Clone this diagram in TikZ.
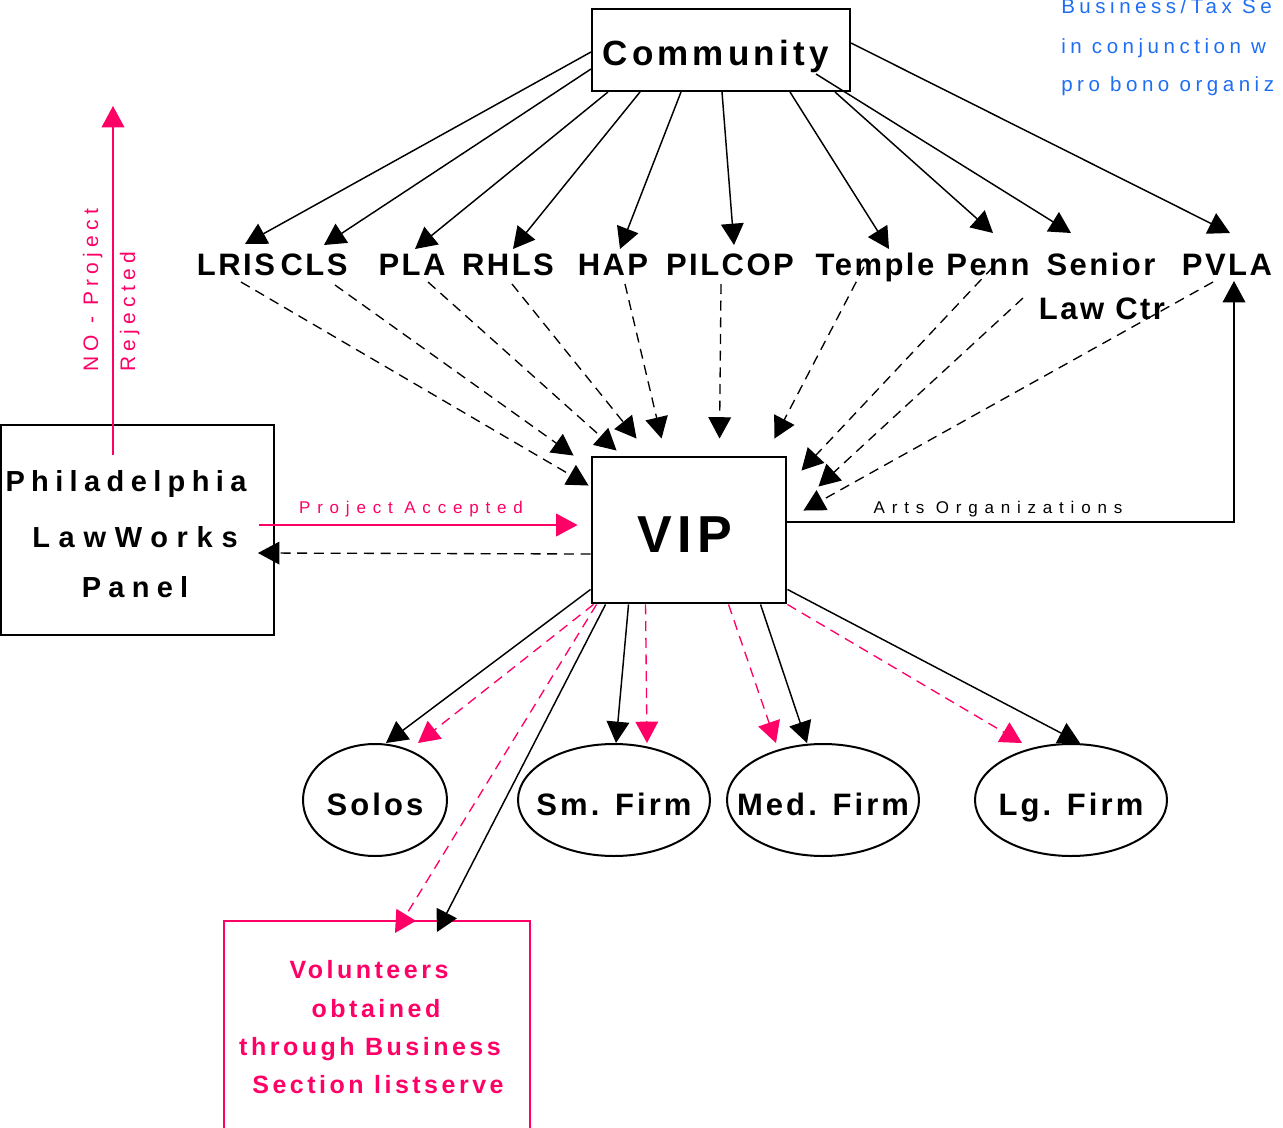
\documentclass[tikz,border=0pt]{standalone}
\usepackage{fontspec}
\setmainfont{Liberation Sans}
\usetikzlibrary{arrows.meta,shapes.geometric}
\definecolor{pk}{RGB}{255,0,102}
\definecolor{bl}{RGB}{30,110,245}
\newcommand\myls[1]{\addfontfeatures{LetterSpace=#1}}
\newcommand\myfs[1]{\fontsize{#1}{#1}\selectfont}
\begin{document}
\begin{tikzpicture}[x=0.75pt,y=-0.75pt,
  box/.style={draw, rectangle, inner sep=0pt, line width=1.5pt},
  oval/.style={draw, ellipse, inner sep=0pt, line width=1.5pt, minimum height=84pt,
    text height=22.5pt, text depth=0pt, font=\bfseries\myfs{23.25pt}\myls{10}},
  lab/.style={anchor=base, inner sep=0pt, font=\bfseries\myfs{23.25pt}\myls{8}},
  txt/.style={anchor=base, inner sep=0pt},
  arr/.style={-{Triangle[length=16pt,width=17pt]}, line width=1.1pt},
  darr/.style={arr, line width=1pt, dash pattern=on 7.5pt off 5pt},
  parr/.style={arr, color=pk},
  pdarr/.style={darr, color=pk}]
\clip (0,0) rectangle (1283,1128);

% main boxes
\node[box, minimum width=193.5pt, minimum height=61.5pt, text height=22.5pt, text depth=0pt,
  font=\bfseries\myfs{26.25pt}\myls{12}] (comm) at (721,50) {\hspace*{-8pt}Community};
\node[box, line width=2.2pt, minimum width=145.5pt, minimum height=109.5pt, text height=33pt,
  text depth=0pt, font=\bfseries\myfs{39pt}\myls{10}] (vip) at (689,530) {\hspace*{-6pt}VIP};
\node[box, minimum width=204.75pt, minimum height=157.5pt] (phil) at (137.5,530) {};
\node[txt, font=\bfseries\myfs{21.75pt}\myls{22}] (phil1) at (126,491) {Philadelphia};
\node[txt, font=\bfseries\myfs{21.75pt}\myls{30}] (phil2) at (135,547) {LawWorks};
\node[txt, font=\bfseries\myfs{21.75pt}\myls{25}] (phil3) at (135,597) {Panel};

% labels
\node[lab] (lris) at (236,275) {LRIS};
\node[lab] (cls) at (314,275) {CLS};
\node[lab] (pla) at (412,275) {PLA};
\node[lab] (rhls) at (508,275) {RHLS};
\node[lab] (hap) at (613,275) {HAP};
\node[lab] (pilcop) at (730,275) {PILCOP};
\node[lab] (temple) at (875,275) {Temple};
\node[lab] (penn) at (988,275) {Penn};
\node[lab] (senior) at (1101,275) {Senior};
\node[lab] (lawctr) at (1102,319) {Law Ctr};
\node[lab] (pvla) at (1227,275) {PVLA};

% ovals
\node[oval, minimum width=108pt] (solos) at (375,800) {\makebox[0pt]{Solos}};
\node[oval, minimum width=144pt] (sm) at (614,800) {\makebox[0pt]{Sm. Firm}};
\node[oval, minimum width=144pt] (med) at (823,800) {\makebox[0pt]{Med. Firm}};
\node[oval, minimum width=144pt] (lg) at (1071,800) {\makebox[0pt]{Lg. Firm}};

% volunteers
\node[box, draw=pk, minimum width=229.5pt, minimum height=164.25pt] (vol) at (377,1030.5) {};
\begin{scope}[every node/.style={txt, text=pk, font=\bfseries\myfs{18.75pt}\myls{14}}]
\node (vol1) at (369,978) {Volunteers};
\node (vol2) at (376,1017) {obtained};
\node (vol3) at (370,1055) {through Business};
\node (vol4) at (378,1093) {Section listserve};
\end{scope}

% small labels
\node[txt, text=pk, font=\myfs{12.75pt}\myls{40}] (pacc) at (411,513) {Project Accepted};
\node[txt, font=\myfs{12.75pt}\myls{40}] (arts) at (998,513) {Arts Organizations};
\node[txt, anchor=base west, rotate=90, text=pk, font=\myfs{15.75pt}\myls{25}] (no1) at (98,372) {NO - Project};
\node[txt, anchor=base west, rotate=90, text=pk, font=\myfs{15.75pt}\myls{25}] (no2) at (135,372) {Rejected};

% blue note
\begin{scope}[every node/.style={txt, anchor=base west, text=bl, font=\myfs{15.4pt}\myls{22}}]
\node (b1) at (1061,13) {Business/Tax Se};
\node (b2) at (1061,53) {in conjunction w};
\node (b3) at (1061,91) {pro bono organiz};
\end{scope}

% Community -> organisations
\draw[arr] ([shift={(0,2)}]comm.west) -- ([shift={(9,-31)}]lris.base);
\draw[arr] ([shift={(0,19)}]comm.west) -- ([shift={(10,-30)}]cls.base);
\draw[arr] ([shift={(17,0)}]comm.south west) -- ([shift={(3,-26)}]pla.base);
\draw[arr] ([shift={(49,0)}]comm.south west) -- ([shift={(5,-26)}]rhls.base);
\draw[arr] ([shift={(90,0)}]comm.south west) -- ([shift={(7,-26)}]hap.base);
\draw[arr] ([shift={(131,0)}]comm.south west) -- ([shift={(4,-30)}]pilcop.base);
\draw[arr] ([shift={(199,0)}]comm.south west) -- ([shift={(14,-26)}]temple.base);
\draw[arr] ([shift={(244,0)}]comm.south west) -- ([shift={(5,-42)}]penn.base);
\draw[arr] ([shift={(-35,-18)}]comm.south east) -- ([shift={(-30,-42)}]senior.base);
\draw[arr] ([shift={(0,-7)}]comm.east) -- ([shift={(3,-42)}]pvla.base);

% organisations -> VIP
\draw[darr] ([shift={(5,7)}]lris.base) -- ([shift={(-2,30)}]vip.north west);
\draw[darr] ([shift={(21,10)}]cls.base) -- ([shift={(-17,0)}]vip.north west);
\draw[darr] ([shift={(16,7)}]pla.base) -- ([shift={(26,-5)}]vip.north west);
\draw[darr] ([shift={(4,9)}]rhls.base) -- ([shift={(46,-17)}]vip.north west);
\draw[darr] ([shift={(12,9)}]hap.base) -- ([shift={(71,-17)}]vip.north west);
\draw[darr] ([shift={(-9,9)}]pilcop.base) -- ([shift={(129,-17)}]vip.north west);
\draw[darr] ([shift={(-11,-8)}]temple.base) -- ([shift={(-13,-17)}]vip.north east);
\draw[darr] ([shift={(5,-8)}]penn.base) -- ([shift={(14,15)}]vip.north east);
\draw[darr] ([shift={(-79,-21)}]lawctr.base) -- ([shift={(31,31)}]vip.north east);
\draw[darr] ([shift={(-14,7)}]pvla.base) -- ([shift={(16,55)}]vip.north east);

% VIP <-> Philadelphia LawWorks, rejected, arts
\coordinate (noTop) at (113,106);
\draw[parr] ([shift={(-24.5,31)}]phil.north) -- (noTop);
\draw[parr] ([shift={(-16,-5)}]phil.east) -- ([shift={(-13,-5)}]vip.west);
\draw[darr] ([shift={(0,24)}]vip.west) -- ([shift={(-17,23)}]phil.east);
\draw[arr] ([shift={(0,-8)}]vip.east) -| ([shift={(7,6)}]pvla.base);

% VIP -> firms
\draw[arr] ([shift={(0,-15)}]vip.south west) -- ([shift={(11,0)}]solos.north);
\draw[pdarr] ([shift={(3,0)}]vip.south west) -- ([shift={(43,0)}]solos.north);
\draw[pdarr] ([shift={(6,0)}]vip.south west) -- ([shift={(172,13)}]vol.north west);
\draw[arr] ([shift={(15,0)}]vip.south west) -- ([shift={(214,12)}]vol.north west);
\draw[arr] ([shift={(38,0)}]vip.south west) -- ([shift={(2,0)}]sm.north);
\draw[pdarr] ([shift={(55,0)}]vip.south west) -- ([shift={(33,0)}]sm.north);
\draw[pdarr] ([shift={(138,0)}]vip.south west) -- ([shift={(-47,0)}]med.north);
\draw[arr] ([shift={(170,0)}]vip.south west) -- ([shift={(-16,0)}]med.north);
\draw[pdarr] (vip.south east) -- ([shift={(-49,0)}]lg.north);
\draw[arr] ([shift={(0,-15)}]vip.south east) -- ([shift={(9,0)}]lg.north);
\end{tikzpicture}
\end{document}
